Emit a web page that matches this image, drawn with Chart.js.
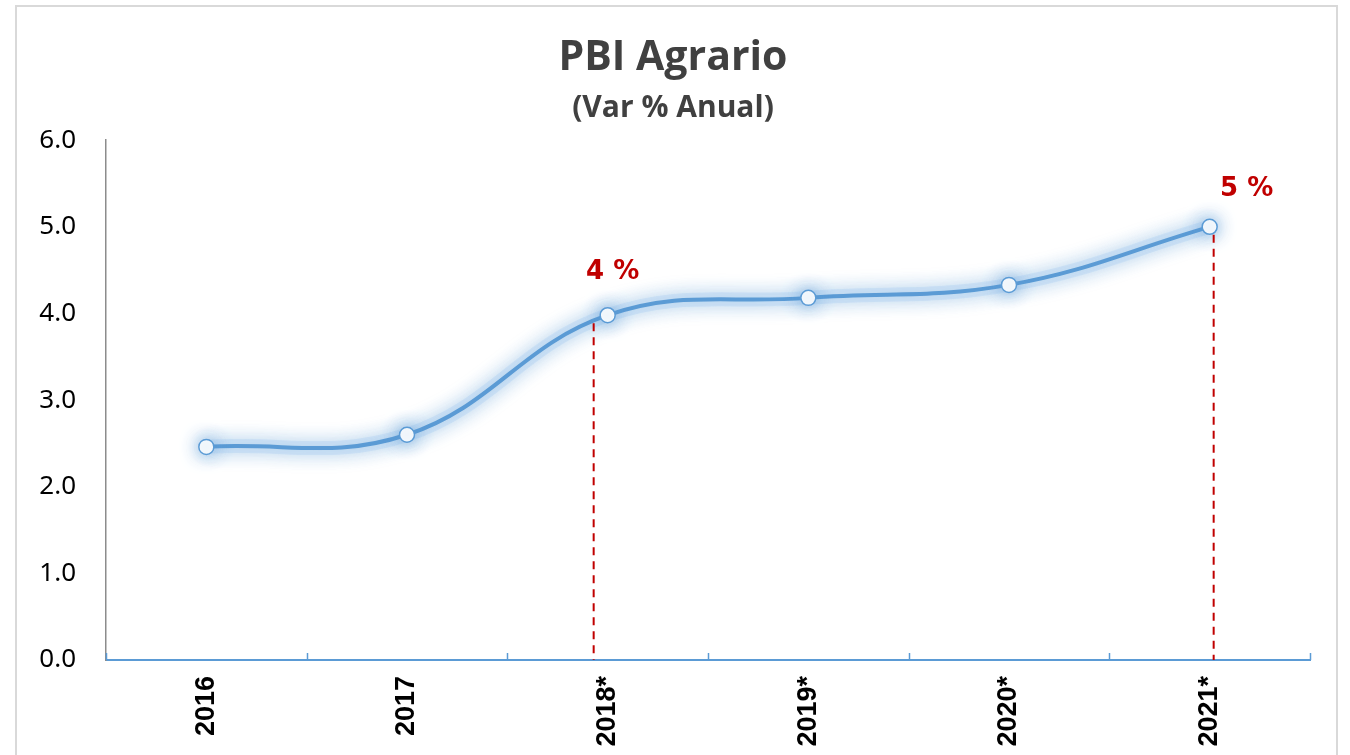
<!DOCTYPE html>
<html>
<head>
<meta charset="utf-8">
<script src="https://cdn.jsdelivr.net/npm/chart.js@4/dist/chart.umd.min.js"></script>
<style>
  html, body { margin: 0; padding: 0; background: #fff; }
  #wrap { position: relative; width: 1350px; height: 755px; overflow: hidden; }
  #frame { position: absolute; left: 15px; top: 5px; width: 1323px; height: 780px; border: 2px solid #d9d9d9; box-sizing: border-box; pointer-events: none; }
  canvas { position: absolute; left: 0; top: 0; }
</style>
</head>
<body>
<div id="wrap">
  <canvas id="pbiChart" width="1350" height="755"></canvas>
  <div id="frame"></div>
</div>
<script>
// datos del gráfico
const years = ['2016', '2017', '2018*', '2019*', '2020*', '2021*'];
const varAnual = [2.46, 2.6, 3.98, 4.18, 4.33, 5.0];
const yTicks = [0, 1, 2, 3, 4, 5, 6];
// etiquetas rojas con línea punteada
const markIndex = [2, 5];
const markText = ['4 %', '5 %'];

const blue = '#5B9BD5';
const red = '#C00000';

// brillo azul alrededor de la línea
const glowPlugin = {
  id: 'glow',
  beforeDatasetsDraw(chart) {
    const ctx = chart.ctx;
    ctx.save();
    ctx.shadowColor = 'rgba(91,155,213,0.9)';
    ctx.shadowBlur = 18;
  },
  afterDatasetsDraw(chart) {
    chart.ctx.restore();
  }
};

// marcas del eje x hacia arriba
const xTickMarks = {
  id: 'xTickMarks',
  afterDraw(chart) {
    const ctx = chart.ctx;
    const xs = chart.scales.x;
    const bottom = chart.chartArea.bottom;
    ctx.save();
    ctx.strokeStyle = blue;
    ctx.lineWidth = 1.5;
    for (let i = 0; i <= years.length; i++) {
      const x = Math.round(xs.getPixelForValue(i - 0.5)) + 0.5;
      ctx.beginPath();
      ctx.moveTo(x, bottom);
      ctx.lineTo(x, bottom - 7);
      ctx.stroke();
    }
    ctx.restore();
  }
};

// líneas punteadas rojas y etiquetas
const markers = {
  id: 'markers',
  afterDatasetsDraw(chart) {
    const ctx = chart.ctx;
    const meta = chart.getDatasetMeta(1);
    const bottom = chart.chartArea.bottom;
    const nudge = { 2: -14, 5: 4 };
    ctx.save();
    markIndex.forEach((idx, k) => {
      const pt = meta.data[idx];
      const x = pt.x + (nudge[idx] || 0);
      ctx.strokeStyle = red;
      ctx.lineWidth = 2;
      ctx.setLineDash([8, 6]);
      ctx.beginPath();
      ctx.moveTo(x, pt.y + 8);
      ctx.lineTo(x, bottom);
      ctx.stroke();
      ctx.setLineDash([]);
      ctx.fillStyle = red;
      ctx.font = 'bold 26px "DejaVu Sans", Verdana, sans-serif';
      ctx.textAlign = 'center';
      ctx.textBaseline = 'middle';
      const dx = idx === 5 ? 37 : 5;
      const dy = idx === 5 ? -38 : -43;
      ctx.fillText(markText[k], pt.x + dx, pt.y + dy);
    });
    ctx.restore();
  }
};

const ctx = document.getElementById('pbiChart').getContext('2d');
const pbiChart = new Chart(ctx, {
  type: 'line',
  data: {
    labels: years,
    datasets: [{
      // halo suave debajo de la línea
      label: 'halo',
      data: varAnual,
      borderColor: 'rgba(170,205,245,0.28)',
      borderWidth: 14,
      tension: 0.4,
      pointRadius: 0,
      fill: false,
      order: 2
    }, {
      label: 'PBI Agrario',
      data: varAnual,
      borderColor: blue,
      borderWidth: 4,
      tension: 0.4,
      pointRadius: 7.5,
      pointBorderWidth: 1.5,
      pointBackgroundColor: '#fff',
      pointBorderColor: blue,
      fill: false,
      order: 1
    }]
  },
  options: {
    responsive: false,
    animation: false,
    layout: { padding: { left: 36, right: 40, top: 0, bottom: 0 } },
    plugins: {
      legend: { display: false },
      tooltip: { enabled: false },
      title: {
        display: true,
        text: 'PBI Agrario',
        color: '#404040',
        font: { family: '"Open Sans", sans-serif', size: 41, weight: 'bold', lineHeight: 1.2 },
        padding: { top: 34, bottom: 7 }
      },
      subtitle: {
        display: true,
        text: '(Var % Anual)',
        color: '#404040',
        font: { family: '"Open Sans", sans-serif', size: 30, weight: 'bold', lineHeight: 1.2 },
        padding: { top: 0, bottom: 14 }
      }
    },
    scales: {
      x: {
        offset: true,
        grid: { display: false, drawTicks: false },
        border: { display: true, color: blue, width: 2 },
        ticks: {
          minRotation: 90,
          maxRotation: 90,
          padding: 16,
          color: '#000',
          font: { family: '"Liberation Sans", Arial, sans-serif', size: 27, weight: 'bold' }
        },
        afterFit(scale) { scale.height = 95; }
      },
      y: {
        min: 0,
        max: 6,
        afterBuildTicks(scale) { scale.ticks = yTicks.map(v => ({ value: v })); },
        grid: { display: false, drawTicks: false },
        border: { display: true, color: '#8c8c8c', width: 1.5 },
        ticks: {
          padding: 30,
          color: '#000',
          font: { family: '"Noto Sans", sans-serif', size: 26 },
          callback: v => Number(v).toFixed(1)
        },
        afterFit(scale) { scale.width = 70; }
      }
    }
  },
  plugins: [glowPlugin, markers, xTickMarks]
});
</script>
</body>
</html>
